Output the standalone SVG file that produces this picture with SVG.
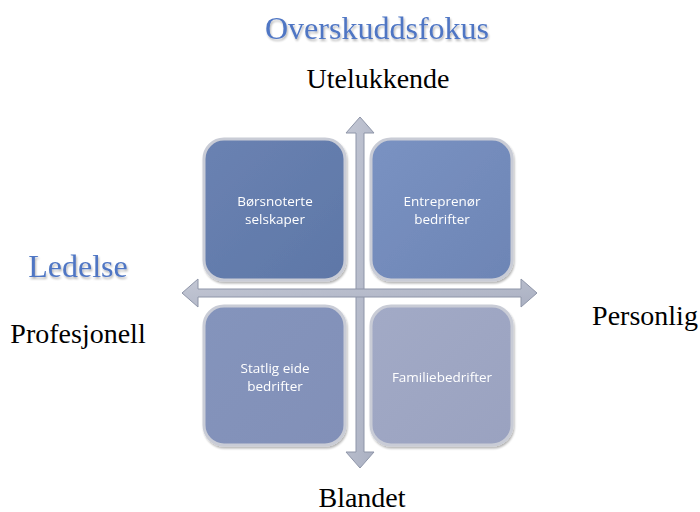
<svg xmlns="http://www.w3.org/2000/svg" width="700" height="512" viewBox="0 0 700 512">
<defs>
<style>
.title{font-family:"Liberation Serif","Times New Roman",serif;font-size:32px;fill:#4f76c4;text-anchor:middle}
.lbl{font-family:"Liberation Serif","Times New Roman",serif;font-size:28px;fill:#000;text-anchor:middle}
.bt{font-family:"Open Sans","Liberation Sans",sans-serif;font-size:13.5px;fill:#fff;text-anchor:middle}
.box{stroke:#c9ccd6;stroke-width:3}
.ax{fill:url(#axg);stroke:#8e95a8;stroke-width:1}
</style>
<filter id="sh" x="-20%" y="-20%" width="140%" height="160%">
<feGaussianBlur in="SourceAlpha" stdDeviation="1.2"/>
<feOffset dx="1" dy="2"/>
<feComponentTransfer><feFuncA type="linear" slope="0.3"/></feComponentTransfer>
<feMerge><feMergeNode/><feMergeNode in="SourceGraphic"/></feMerge>
</filter>
<linearGradient id="g1" x1="0" y1="0" x2="1" y2="1"><stop offset="0" stop-color="#6a82b2"/><stop offset="1" stop-color="#5e77a7"/></linearGradient>
<linearGradient id="g2" x1="0" y1="0" x2="1" y2="1"><stop offset="0" stop-color="#7a92c2"/><stop offset="1" stop-color="#6d85b5"/></linearGradient>
<linearGradient id="g3" x1="0" y1="0" x2="1" y2="1"><stop offset="0" stop-color="#8494bc"/><stop offset="1" stop-color="#8290b8"/></linearGradient>
<linearGradient id="g4" x1="0" y1="0" x2="1" y2="1"><stop offset="0" stop-color="#a2aac6"/><stop offset="1" stop-color="#9aa2c0"/></linearGradient>
<linearGradient id="axg" x1="0" y1="0" x2="1" y2="1"><stop offset="0" stop-color="#c3c7d4"/><stop offset="1" stop-color="#aab0c2"/></linearGradient>
</defs>
<rect width="700" height="512" fill="#fff"/>
<g id="connectors">
<path class="ax" d="M356,133 L346,133 L360,117 L374,133 L364,133 L364,452 L374,452 L360,468 L346,452 L356,452 Z"/>
<path class="ax" d="M198,289 L198,279 L182,293 L198,307 L198,297 L521,297 L521,307 L537,293 L521,279 L521,289 Z"/>
</g>
<g id="n1" filter="url(#sh)"><rect class="box" x="204" y="139" width="141" height="141" rx="20" fill="url(#g1)"/><text class="bt" x="275" y="206">Børsnoterte</text><text class="bt" x="275" y="224">selskaper</text></g>
<g id="n2" filter="url(#sh)"><rect class="box" x="371" y="139" width="141" height="141" rx="20" fill="url(#g2)"/><text class="bt" x="442" y="206">Entreprenør</text><text class="bt" x="442" y="224">bedrifter</text></g>
<g id="n3" filter="url(#sh)"><rect class="box" x="204" y="306" width="141" height="139" rx="20" fill="url(#g3)"/><text class="bt" x="275" y="373">Statlig eide</text><text class="bt" x="275" y="391">bedrifter</text></g>
<g id="n4" filter="url(#sh)"><rect class="box" x="371" y="306" width="141" height="139" rx="20" fill="url(#g4)"/><text class="bt" x="442" y="382">Familiebedrifter</text></g>
<g id="labels">
<text class="title" x="377" y="39" filter="url(#sh)">Overskuddsfokus</text>
<text class="lbl" x="378" y="88">Utelukkende</text>
<text class="title" x="78" y="277" filter="url(#sh)">Ledelse</text>
<text class="lbl" x="78" y="343">Profesjonell</text>
<text class="lbl" x="645" y="325">Personlig</text>
<text class="lbl" x="362" y="507">Blandet</text>
</g>
</svg>
